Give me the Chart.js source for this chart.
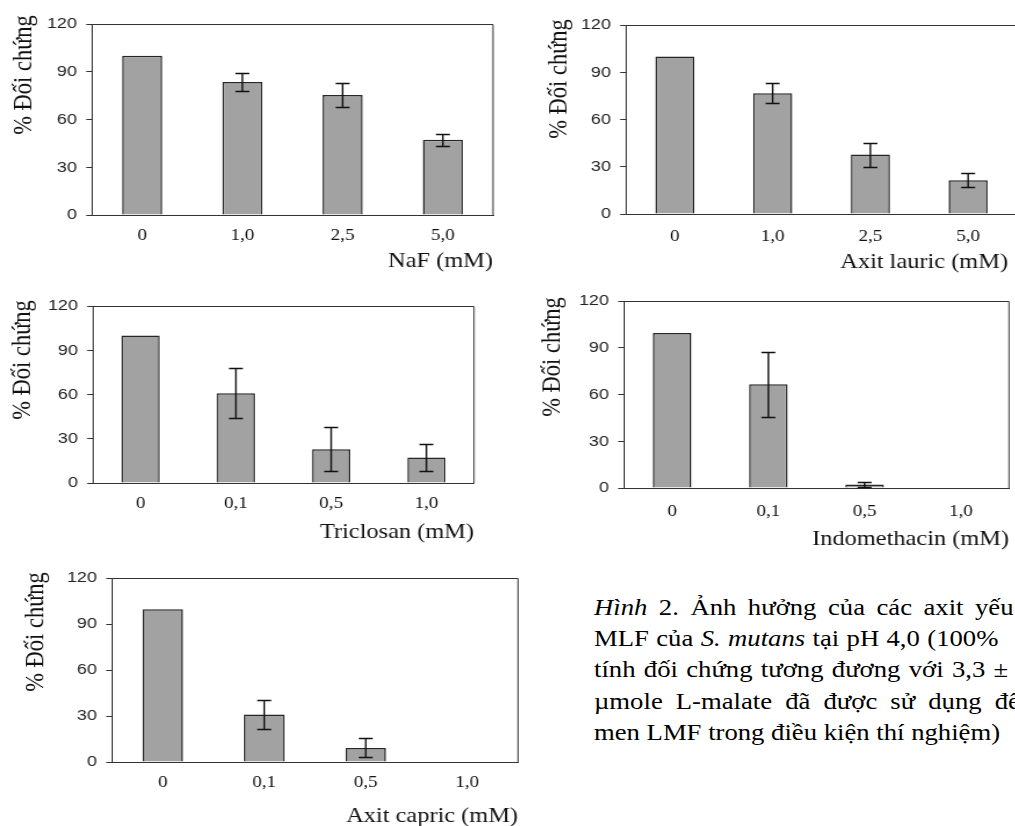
<!DOCTYPE html>
<html><head><meta charset="utf-8">
<script src="https://cdn.jsdelivr.net/npm/chart.js@4.4.0/dist/chart.umd.min.js"></script>
<style>
html,body{margin:0;padding:0;background:#fff;width:1015px;height:826px;overflow:hidden;position:relative}
canvas{position:absolute;transform-origin:0 0}
.cap{position:absolute;left:594px;font-family:'Liberation Serif','Times New Roman',serif;font-size:23px;line-height:31px;white-space:nowrap;transform:scaleX(1.16);transform-origin:0 0;color:#000}
</style></head><body>
<canvas id="c1"></canvas><canvas id="c2"></canvas><canvas id="c3"></canvas><canvas id="c4"></canvas><canvas id="c5"></canvas>
<div class="cap" id="l1" data-w="419" style="top:592px"><i>Hình</i> 2. Ảnh hưởng của các axit yếu</div>
<div class="cap" id="l2" data-w="404" style="top:623px">MLF của <i>S. mutans</i> tại pH 4,0 (100%</div>
<div class="cap" id="l3" data-w="414" style="top:654px">tính đối chứng tương đương với 3,3 ±</div>
<div class="cap" id="l4" data-w="426" style="top:686px">µmole L-malate đã được sử dụng để</div>
<div class="cap" id="l5" style="top:717px">men LMF trong điều kiện thí nghiệm)</div>
<script>
// ---- data ----
const concLabelsA = ['0', '1,0', '2,5', '5,0'];
const concLabelsB = ['0', '0,1', '0,5', '1,0'];
const yTicks = [0, 30, 60, 90, 120];
const nafValues = [100, 83.6, 75.4, 47.2];
const nafErrors = [0, 5.4, 7.7, 3.9];
const lauricValues = [100, 76.6, 37.7, 21.4];
const lauricErrors = [0, 6.3, 7.6, 4.5];
const triclosanValues = [100, 60.8, 22.9, 17.3];
const triclosanErrors = [0, 16.9, 15.1, 9.3];
const indoValues = [99.5, 66.6, 2.3, 0];
const indoErrors = [0, 20.9, 1.6, 0];
const capricValues = [99.7, 31, 9.2, 0];
const capricErrors = [0, 9.2, 6.2, 0];
const yTitle = '% Đối chứng';
const xTitles = ['NaF (mM)', 'Axit lauric (mM)', 'Triclosan (mM)', 'Indomethacin (mM)', 'Axit capric (mM)'];

// ---- layout (page coordinates) ----
const panels = [
  {id:'c1', labels:concLabelsA, values:nafValues, errors:nafErrors, xt:xTitles[0],
   area:{l:92,t:24,r:493,b:215}, yt:{x:25,y:75}, xtBase:267, tickPad:3},
  {id:'c2', labels:concLabelsA, values:lauricValues, errors:lauricErrors, xt:xTitles[1],
   area:{l:626,t:25,r:1017,b:214}, yt:{x:560,y:79}, xtBase:268, xtRight:1008, tickPad:5},
  {id:'c3', labels:concLabelsB, values:triclosanValues, errors:triclosanErrors, xt:xTitles[2],
   area:{l:93,t:306,r:474,b:483}, yt:{x:23,y:360}, xtBase:538, tickPad:3},
  {id:'c4', labels:concLabelsB, values:indoValues, errors:indoErrors, xt:xTitles[3],
   area:{l:624,t:301,r:1009,b:488}, yt:{x:553,y:357}, xtBase:545, tickPad:6},
  {id:'c5', labels:concLabelsB, values:capricValues, errors:capricErrors, xt:xTitles[4],
   area:{l:112,t:578,r:518,b:762}, yt:{x:36,y:632}, xtBase:822, tickPad:3}
];

const SX = 1.16; // the reference figure is stretched horizontally

function makeChart(p){
  const a = p.area;
  const cx0 = Math.max(0, a.l - 92), cy0 = a.t - 22, cx1 = a.r + 22, cy1 = a.b + 66;
  const W = Math.round((cx1 - cx0) / SX), H = cy1 - cy0;
  const L = (a.l - cx0) / SX, R = (a.r - cx0) / SX;
  const cv = document.getElementById(p.id);
  cv.width = W; cv.height = H;
  cv.style.left = cx0 + 'px'; cv.style.top = cy0 + 'px';
  cv.style.transform = 'scaleX(' + SX + ')';
  const deco = {
    id:'deco' + p.id,
    afterDatasetsDraw(chart){
      const ctx = chart.ctx, ys = chart.scales.y, meta = chart.getDatasetMeta(0);
      ctx.save();
      ctx.strokeStyle = '#111'; ctx.lineWidth = 1.4;
      meta.data.forEach((el, i) => {
        const e = p.errors[i], v = p.values[i];
        if (!e) return;
        const x = el.x;
        const y1 = Math.round(ys.getPixelForValue(v + e)) + 0.5;
        const y2 = Math.round(ys.getPixelForValue(Math.max(0, v - e))) + 0.5;
        ctx.beginPath();
        ctx.moveTo(x, y1); ctx.lineTo(x, y2);
        ctx.moveTo(x - 6, y1); ctx.lineTo(x + 6, y1);
        ctx.moveTo(x - 6, y2); ctx.lineTo(x + 6, y2);
        ctx.stroke();
      });
      ctx.restore();
    },
    afterDraw(chart){
      const ctx = chart.ctx, ca = chart.chartArea;
      ctx.save();
      ctx.strokeStyle = '#333'; ctx.lineWidth = 1;
      ctx.beginPath();
      ctx.moveTo(ca.left, Math.round(ca.top) + 0.5);
      ctx.lineTo(ca.right, Math.round(ca.top) + 0.5);
      ctx.lineTo(ca.right, ca.bottom);
      ctx.stroke();
      // y title
      ctx.fillStyle = '#111';
      ctx.font = '22.5px "Liberation Serif", "Times New Roman", serif';
      ctx.translate((p.yt.x - cx0) / SX, p.yt.y - cy0);
      ctx.rotate(-Math.PI / 2);
      ctx.textAlign = 'center'; ctx.textBaseline = 'middle';
      ctx.fillText(yTitle, 0, 0);
      ctx.setTransform(1, 0, 0, 1, 0, 0);
      // x title
      ctx.font = '21px "Liberation Serif", "Times New Roman", serif';
      ctx.textAlign = 'right'; ctx.textBaseline = 'alphabetic';
      ctx.fillText(p.xt, ((p.xtRight || a.r) - cx0) / SX, p.xtBase - cy0);
      ctx.restore();
    }
  };
  new Chart(cv, {
    type:'bar',
    data:{labels:p.labels, datasets:[{data:p.values, backgroundColor:'#a2a2a2', borderColor:'#262626', borderWidth:1.5, barPercentage:0.4, categoryPercentage:1}]},
    options:{
      responsive:false, animation:false, devicePixelRatio:1,
      layout:{padding:{left:0, top:a.t - cy0, right:W - R, bottom:0}},
      plugins:{legend:{display:false}, tooltip:{enabled:false}, title:{display:false}},
      scales:{
        x:{type:'category', offset:true, grid:{display:false}, border:{display:true, color:'#333', width:1},
           ticks:{font:{family:'"Liberation Serif", "Times New Roman", serif', size:16.5}, color:'#111', padding:p.tickPad, maxRotation:0, autoSkip:false},
           afterFit:s => { s.height = cy1 - a.b; }},
        y:{min:yTicks[0], max:yTicks[yTicks.length - 1],
           ticks:{stepSize:yTicks[1] - yTicks[0], font:{family:'"Liberation Sans", Arial, sans-serif', size:15.5}, color:'#222', padding:8},
           grid:{drawOnChartArea:false, drawTicks:true, tickLength:5, color:'#333'},
           border:{display:true, color:'#333', width:1},
           afterFit:s => { s.width = L; }}
      }
    },
    plugins:[deco]
  });
}
panels.forEach(makeChart);

// justify caption lines
document.querySelectorAll('.cap[data-w]').forEach(el => {
  const target = parseFloat(el.dataset.w) / SX;
  el.style.display = 'inline-block';
  const nat = el.offsetWidth;
  const gaps = (el.textContent.match(/ /g) || []).length;
  if (gaps) el.style.wordSpacing = ((target - nat) / gaps) + 'px';
});
</script>
</body></html>
